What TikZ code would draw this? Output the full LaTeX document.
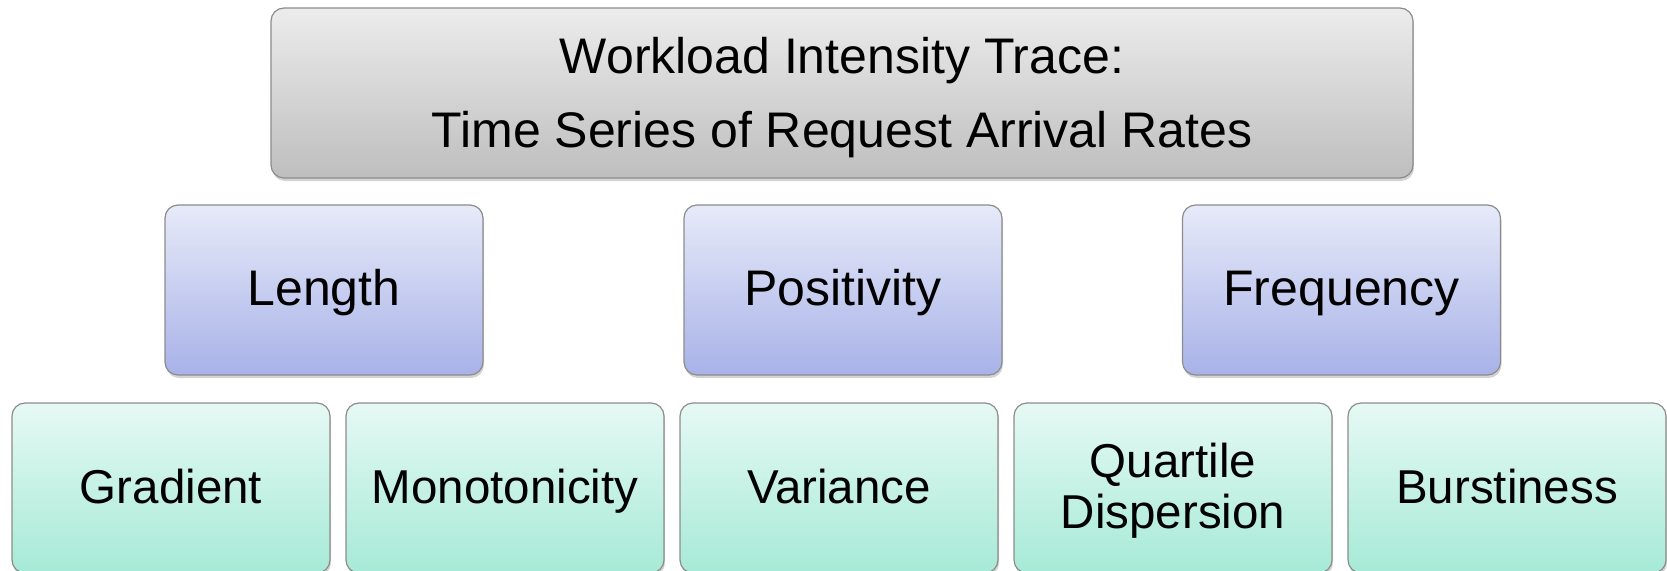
\documentclass[tikz,border=0pt]{standalone}
\usepackage{fontspec}
\setmainfont{Liberation Sans}
\usepackage{tikz}
\usetikzlibrary{shadows}

\definecolor{traceTop}{RGB}{236,236,236}
\definecolor{traceBot}{RGB}{190,190,190}
\definecolor{featTop}{RGB}{231,234,249}
\definecolor{featBot}{RGB}{168,178,232}
\definecolor{metrTop}{RGB}{230,249,244}
\definecolor{metrBot}{RGB}{166,234,214}
\definecolor{boxline}{RGB}{140,140,140}

\tikzset{
    box/.style={draw=boxline, line width=1.2pt, rounded corners=13pt,
        inner sep=0pt, align=center, shading=axis,
        text height=36pt, text depth=6pt,
        drop shadow={opacity=0.35, shadow xshift=1pt, shadow yshift=-3pt}},
    tracebox/.style={box, top color=traceTop, bottom color=traceBot,
        minimum width=1142pt, minimum height=170pt, font=\fontsize{50}{74}\selectfont,
        text height=112pt, text depth=4pt},
    featbox/.style={box, top color=featTop, bottom color=featBot,
        minimum width=318pt, minimum height=170pt, font=\fontsize{50}{60}\selectfont},
    metrbox/.style={box, top color=metrTop, bottom color=metrBot,
        minimum width=318pt, minimum height=170pt, font=\fontsize{47.5}{51}\selectfont},
    twoline/.style={text height=87pt, text depth=7pt}
}

\begin{document}
\begin{tikzpicture}[x=1pt,y=1pt]
        \useasboundingbox (0,0) rectangle (1667,-570);

        \node[tracebox] (trace) at (842,-93) {Workload Intensity Trace:\\Time Series of Request Arrival Rates};

        \node[featbox] (length) at (324,-290) {Length};
        \node[featbox] (positivity) at (843,-290) {Positivity};
        \node[featbox] (frequency) at (1341.5,-290) {Frequency};

        \node[metrbox] (gradient) at (171,-488) {Gradient};
        \node[metrbox] (monotonicity) at (505,-488) {Monotonicity};
        \node[metrbox] (variance) at (839,-488) {Variance};
        \node[metrbox,twoline] (quartile) at (1173,-488) {Quartile\\Dispersion};
        \node[metrbox] (burstiness) at (1507,-488) {Burstiness};
    \end{tikzpicture}
\end{document}
